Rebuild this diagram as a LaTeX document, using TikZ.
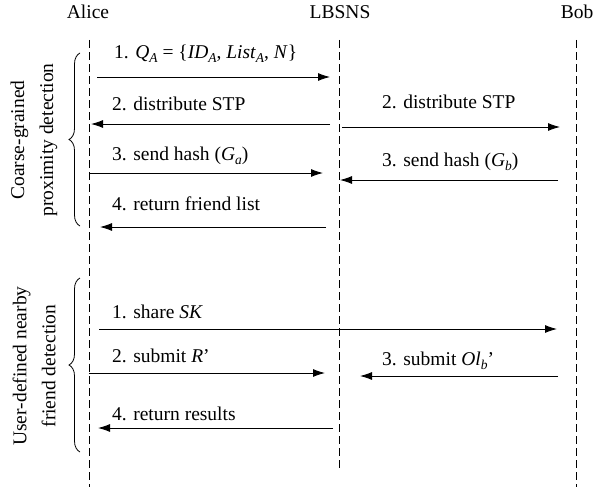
\documentclass[tikz,border=0pt]{standalone}
\usepackage{fontspec}
\setmainfont{Liberation Serif}
\usetikzlibrary{arrows.meta,decorations.pathreplacing}
\newcommand\mysb[1]{\raisebox{-0.45ex}{\fontsize{13.5}{14}\selectfont\itshape #1}}
\begin{document}
\begin{tikzpicture}[x=1pt,y=-1pt,
  every node/.style={font=\fontsize{19.5}{23}\selectfont, inner sep=0pt},
  life/.style={line width=0.9pt, dash pattern=on 8pt off 4pt},
  msg/.style={line width=0.9pt, -{Latex[length=12pt,width=8pt]}},
  lbl/.style={anchor=base west},
  brc/.style={line width=0.8pt, decorate, decoration={brace,amplitude=11pt,mirror}},
  side/.style={rotate=90, align=center, font=\fontsize{19.5}{29}\selectfont}]
\useasboundingbox (0,0) rectangle (593,487);
% headers
\node[anchor=base] (alice) at (88,19) {Alice};
\node[anchor=base] (lbsns) at (340,19) {LBSNS};
\node[anchor=base] (bob) at (577,19) {Bob};
% lifelines
\coordinate (aT) at (89,40); \coordinate (aB) at (89,487);
\coordinate (lT) at (339,40); \coordinate (lB) at (339,470);
\coordinate (bT) at (576,40); \coordinate (bB) at (576,487);
\draw[life] (aT) -- (aB);
\draw[life] (lT) -- (lB);
\draw[life] (bT) -- (bB);
% coarse-grained
\coordinate (m1s) at (97,77); \coordinate (m1e) at (330,77);
\draw[msg] (m1s) -- (m1e);
\node[lbl] (l1) at (114,58) {1. \textit{Q}\mysb{A} = \{\textit{ID}\mysb{A}, \textit{List}\mysb{A}, \textit{N}\}};
\coordinate (m2s) at (330,124); \coordinate (m2e) at (91,124);
\draw[msg] (m2s) -- (m2e);
\node[lbl] (l2) at (112,110) {2. distribute STP};
\coordinate (m2bs) at (342,127); \coordinate (m2be) at (560,127);
\draw[msg] (m2bs) -- (m2be);
\node[lbl] (l2b) at (382,108) {2. distribute STP};
\coordinate (m3s) at (89,173); \coordinate (m3e) at (323,173);
\draw[msg] (m3s) -- (m3e);
\node[lbl] (l3) at (112,160) {3. send hash (\textit{G}\mysb{a})};
\coordinate (m3bs) at (558,180); \coordinate (m3be) at (340,180);
\draw[msg] (m3bs) -- (m3be);
\node[lbl] (l3b) at (382,166) {3. send hash (\textit{G}\mysb{b})};
\coordinate (m4s) at (326,227); \coordinate (m4e) at (100,227);
\draw[msg] (m4s) -- (m4e);
\node[lbl] (l4) at (112,210) {4. return friend list};
% brace 1
\coordinate (b1t) at (80,53); \coordinate (b1b) at (80,226);
\draw[brc] (b1t) -- (b1b);
\node[side] (s1) at (34,140) {Coarse-grained\\proximity detection};
% user-defined
\coordinate (n1s) at (99,329); \coordinate (n1e) at (557,329);
\draw[msg] (n1s) -- (n1e);
\node[lbl] (k1) at (112,318) {1. share \textit{SK}};
\coordinate (n2s) at (89,373); \coordinate (n2e) at (325,373);
\draw[msg] (n2s) -- (n2e);
\node[lbl] (k2) at (112,362) {2. submit \textit{R}’};
\coordinate (n3s) at (558,376); \coordinate (n3e) at (360,376);
\draw[msg] (n3s) -- (n3e);
\node[lbl] (k3) at (382,365) {3. submit \textit{Ol}\mysb{b}’};
\coordinate (n4s) at (333,428); \coordinate (n4e) at (98,428);
\draw[msg] (n4s) -- (n4e);
\node[lbl] (k4) at (112,420) {4. return results};
% brace 2
\coordinate (b2t) at (80,278); \coordinate (b2b) at (80,452);
\draw[brc] (b2t) -- (b2b);
\node[side] (s2) at (34,366) {User-defined nearby\\friend detection};
\end{tikzpicture}
\end{document}
